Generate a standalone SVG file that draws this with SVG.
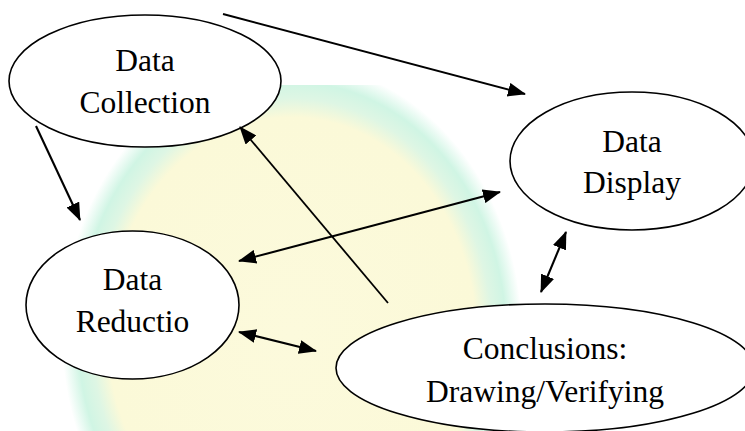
<svg xmlns="http://www.w3.org/2000/svg" width="745" height="431" viewBox="0 0 745 431">
  <style>
    .node ellipse { fill: #ffffff; stroke: #000000; stroke-width: 1.6; }
    .node text { font-family: "Liberation Serif", "Times New Roman", serif; font-size: 31.5px; fill: #000000; text-anchor: middle; }
    .edge { stroke: #000000; stroke-width: 2.1; fill: none; }
    .one { marker-end: url(#head); }
    .two { marker-start: url(#head); marker-end: url(#head); }
  </style>
  <defs>
    <marker id="head" viewBox="0 0 18 14" refX="17" refY="7" markerUnits="userSpaceOnUse" markerWidth="18" markerHeight="14" orient="auto-start-reverse">
      <path d="M0,0 L18,7 L0,14 z" fill="#000000"/>
    </marker>
    <radialGradient id="wm" cx="0.5" cy="0.5" r="0.5">
      <stop offset="0" stop-color="#fcfadc"/>
      <stop offset="0.8" stop-color="#fbf9d8"/>
      <stop offset="0.87" stop-color="#def6e4"/>
      <stop offset="0.93" stop-color="#d0f5e4"/>
      <stop offset="1" stop-color="#ffffff"/>
    </radialGradient>
    <clipPath id="wmclip">
      <rect x="60" y="85" width="460" height="346"/>
    </clipPath>
  </defs>

  <rect x="0" y="0" width="745" height="431" fill="#ffffff"/>

  <g id="watermark" clip-path="url(#wmclip)">
    <ellipse cx="292" cy="335" rx="230" ry="272" fill="url(#wm)"/>
  </g>

  <g id="data-collection" class="node">
    <ellipse cx="145" cy="81" rx="136" ry="66"/>
    <text x="145" y="71">Data</text>
    <text x="145" y="113">Collection</text>
  </g>

  <g id="data-reduction" class="node">
    <ellipse cx="132.5" cy="305" rx="106.5" ry="74"/>
    <text x="132.5" y="290">Data</text>
    <text x="132.5" y="332">Reductio</text>
  </g>

  <g id="data-display" class="node">
    <ellipse cx="632" cy="161" rx="122" ry="69"/>
    <text x="632" y="152">Data</text>
    <text x="632" y="193">Display</text>
  </g>

  <g id="conclusions" class="node">
    <ellipse cx="545" cy="368" rx="209" ry="64"/>
    <text x="545" y="359">Conclusions:</text>
    <text x="545" y="402">Drawing/Verifying</text>
  </g>

  <g id="connectors">
    <line class="edge one" x1="223" y1="14" x2="525" y2="94"/>
    <line class="edge one" x1="36" y1="126" x2="80" y2="220"/>
    <line class="edge one" x1="388" y1="303" x2="240" y2="127" style="stroke-width:1.8"/>
    <line class="edge two" x1="239" y1="261" x2="500" y2="192"/>
    <line class="edge two" x1="239" y1="332" x2="316" y2="351"/>
    <line class="edge two" x1="566" y1="232" x2="541" y2="292"/>
  </g>
</svg>
